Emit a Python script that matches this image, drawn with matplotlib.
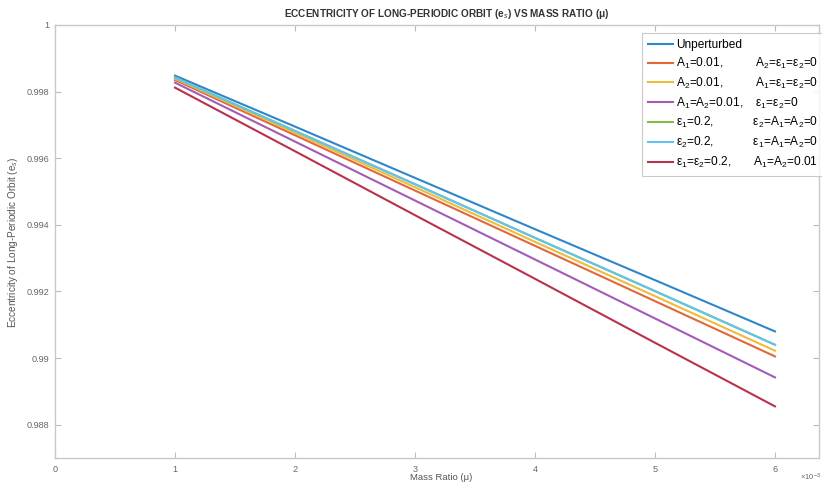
import matplotlib
matplotlib.use("Agg")
import matplotlib.pyplot as plt
import numpy as np

plt.rcParams['font.family'] = ['Liberation Sans', 'DejaVu Sans']
plt.rcParams['mathtext.fontset'] = 'custom'
plt.rcParams['mathtext.rm'] = 'Liberation Sans'
plt.rcParams['mathtext.it'] = 'Liberation Sans:italic'
plt.rcParams['mathtext.bf'] = 'Liberation Sans:bold'

# ---- data (mass ratio in units of 1e-3) ----
mass_ratio = [1, 2, 3, 4, 5, 6]
unperturbed = [0.99848, 0.99695, 0.99541, 0.99387, 0.99234, 0.99080]
a1_only     = [0.99835, 0.99669, 0.99503, 0.99337, 0.99171, 0.99005]
a2_only     = [0.99839, 0.99676, 0.99513, 0.99349, 0.99186, 0.99022]
a1_a2       = [0.99827, 0.99650, 0.99473, 0.99296, 0.99119, 0.98942]
eps1_only   = [0.99842, 0.99682, 0.99522, 0.99361, 0.99201, 0.99040]
eps2_only   = [0.99842, 0.99682, 0.99522, 0.99361, 0.99201, 0.99040]
all_pert    = [0.99812, 0.99621, 0.99429, 0.99238, 0.99046, 0.98855]

series = [unperturbed, a1_only, a2_only, a1_a2, eps1_only, eps2_only, all_pert]
label_left = ["Unperturbed", "A$_1$=0.01,", "A$_2$=0.01,", "A$_1$=A$_2$=0.01,",
              "ε$_1$=0.2,", "ε$_2$=0.2,", "ε$_1$=ε$_2$=0.2,"]
label_right = ["", "A$_2$=ε$_1$=ε$_2$=0", "A$_1$=ε$_1$=ε$_2$=0", "ε$_1$=ε$_2$=0",
               "ε$_2$=A$_1$=A$_2$=0", "ε$_1$=A$_1$=A$_2$=0", "A$_1$=A$_2$=0.01"]
colors = ["#2f86c9", "#e0683a", "#efbb3e", "#a35bb8", "#86bb4a", "#62c4ee", "#b8324c"]

xticks = [0, 1, 2, 3, 4, 5, 6]
yticks = [0.988, 0.99, 0.992, 0.994, 0.996, 0.998, 1.0]
yticklabels = ["0.988", "0.99", "0.992", "0.994", "0.996", "0.998", "1"]

W, H = 822, 484
fig = plt.figure(figsize=(W / 100, H / 100), dpi=100)
left_px, right_px, top_px, bot_px = 55, 819, 25, 458
ax = fig.add_axes([left_px / W, 1 - bot_px / H, (right_px - left_px) / W, (bot_px - top_px) / H])

for s, c in zip(series, colors):
    ax.plot(mass_ratio, s, color=c, lw=1.5)

ax.set_xlim(0, (right_px - left_px) / 120.0)
ax.set_ylim(0.987, 1.0)
ax.set_xticks(xticks)
ax.set_xticklabels([str(t) for t in xticks])
ax.set_yticks(yticks)
ax.set_yticklabels(yticklabels)

for sp in ax.spines.values():
    sp.set_color("#c8c8c8")
    sp.set_linewidth(1.0)
ax.tick_params(direction='in', length=4, width=0.8, color="#bbbbbb",
               labelsize=6.6, labelcolor="#666666", top=True, right=True)
ax.tick_params(axis='x', pad=5)
ax.tick_params(axis='y', pad=4)

fig.text(447 / W, 1 - 14 / H, "ECCENTRICITY OF LONG-PERIODIC ORBIT (e$_s$) VS MASS RATIO (μ)",
         fontsize=7.2, fontweight='bold', color="#333333", ha='center', va='center')
ax.set_ylabel("Eccentricity of Long-Periodic Orbit (e$_s$)", fontsize=7.2, color="#555555")
ax.yaxis.set_label_coords(20 / W, 0.5, transform=fig.transFigure)
ax.set_xlabel("Mass Ratio (μ)", fontsize=6.8, color="#555555")
ax.xaxis.set_label_coords(0.5, 1 - 477 / H, transform=fig.transFigure)
ax.xaxis.label.set_verticalalignment('center')
ax.xaxis.label.set_x(441 / W)
fig.text(821 / W, 1 - 477 / H, "×10$^{-3}$", fontsize=5.5, color="#666666", ha='right', va='center')

handles = ax.get_lines()
leg = ax.legend(handles, label_left, loc='upper left',
                bbox_to_anchor=(642 / W, 1 - 33 / H), bbox_transform=fig.transFigure,
                fontsize=8.6, frameon=True, fancybox=False, edgecolor="#bdbdbd",
                handlelength=2.1, handletextpad=0.25, labelspacing=0.4,
                borderpad=0.5, borderaxespad=0.0)
leg.get_frame().set_linewidth(0.8)

fig.canvas.draw()
renderer = fig.canvas.get_renderer()
target_x = 755
texts = leg.get_texts()
t0 = texts[1]
orig = t0.get_text()
t0.set_text(orig + " " * 10 + "x")
w2 = t0.get_window_extent(renderer).width
t0.set_text(orig + "x")
w3 = t0.get_window_extent(renderer).width
sp_w = (w2 - w3) / 10.0
t0.set_text(orig)
for t, r in zip(texts, label_right):
    if not r:
        continue
    ext = t.get_window_extent(renderer)
    n = max(1, int(round((target_x - ext.x1) / sp_w)))
    t.set_text(t.get_text() + " " * n + r)

fig.savefig("out.png", dpi=100)
